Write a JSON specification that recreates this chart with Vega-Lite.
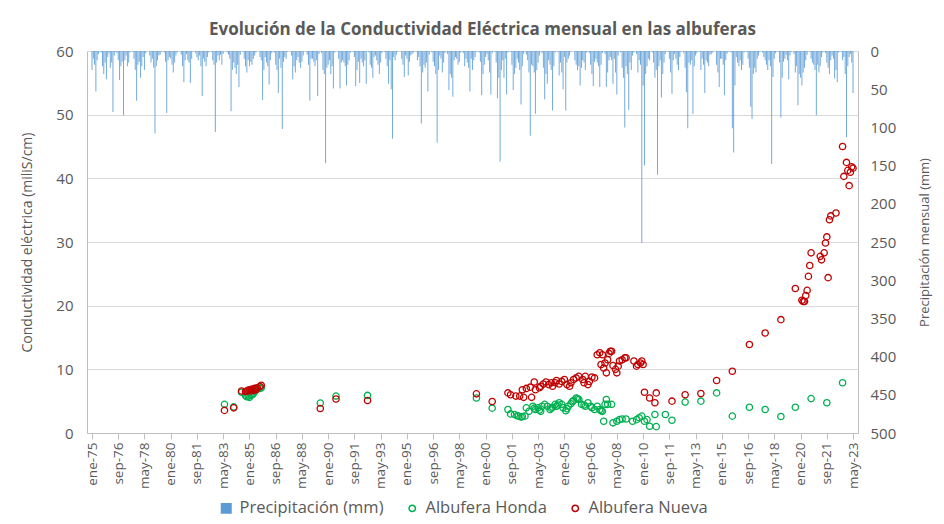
{
"$schema":"https://vega.github.io/schema/vega-lite/v6.json",
"width":771,"height":382,
"autosize":"none",
"padding":{"left":87,"top":51,"right":86,"bottom":91},
"background":"white",
"config":{"font":"Open Sans","view":{"stroke":null}},
"title":{"text":"Evolución de la Conductividad Eléctrica mensual en las albuferas","fontSize":17,"fontWeight":"bold","color":"#595959","offset":5,"dx":10},
"datasets":{
"prec":[
{"d":"1975-01","p":25},{"d":"1975-02","p":10},{"d":"1975-03","p":18},{"d":"1975-04","p":53},{"d":"1975-05","p":12},{"d":"1975-06","p":4},{"d":"1975-07","p":0},{"d":"1975-08","p":2},{"d":"1975-09","p":20},{"d":"1975-10","p":30},{"d":"1975-11","p":15},{"d":"1975-12","p":37},
{"d":"1976-01","p":8},{"d":"1976-02","p":3},{"d":"1976-03","p":22},{"d":"1976-04","p":15},{"d":"1976-05","p":80},{"d":"1976-06","p":6},{"d":"1976-07","p":1},{"d":"1976-08","p":3},{"d":"1976-09","p":12},{"d":"1976-10","p":38},{"d":"1976-11","p":20},{"d":"1976-12","p":14},
{"d":"1977-01","p":84},{"d":"1977-02","p":12},{"d":"1977-03","p":6},{"d":"1977-04","p":20},{"d":"1977-05","p":15},{"d":"1977-06","p":2},{"d":"1977-07","p":0},{"d":"1977-08","p":1},{"d":"1977-09","p":10},{"d":"1977-10","p":25},{"d":"1977-11","p":65},{"d":"1977-12","p":18},
{"d":"1978-01","p":14},{"d":"1978-02","p":35},{"d":"1978-03","p":20},{"d":"1978-04","p":8},{"d":"1978-05","p":25},{"d":"1978-06","p":3},{"d":"1978-07","p":0},{"d":"1978-08","p":0},{"d":"1978-09","p":6},{"d":"1978-10","p":15},{"d":"1978-11","p":10},{"d":"1978-12","p":22},
{"d":"1979-01","p":108},{"d":"1979-02","p":20},{"d":"1979-03","p":12},{"d":"1979-04","p":6},{"d":"1979-05","p":5},{"d":"1979-06","p":1},{"d":"1979-07","p":0},{"d":"1979-08","p":2},{"d":"1979-09","p":14},{"d":"1979-10","p":81},{"d":"1979-11","p":12},{"d":"1979-12","p":8},
{"d":"1980-01","p":10},{"d":"1980-02","p":18},{"d":"1980-03","p":28},{"d":"1980-04","p":15},{"d":"1980-05","p":6},{"d":"1980-06","p":2},{"d":"1980-07","p":0},{"d":"1980-08","p":0},{"d":"1980-09","p":5},{"d":"1980-10","p":20},{"d":"1980-11","p":41},{"d":"1980-12","p":12},
{"d":"1981-01","p":4},{"d":"1981-02","p":12},{"d":"1981-03","p":15},{"d":"1981-04","p":42},{"d":"1981-05","p":10},{"d":"1981-06","p":1},{"d":"1981-07","p":0},{"d":"1981-08","p":3},{"d":"1981-09","p":8},{"d":"1981-10","p":12},{"d":"1981-11","p":6},{"d":"1981-12","p":20},
{"d":"1982-01","p":59},{"d":"1982-02","p":10},{"d":"1982-03","p":14},{"d":"1982-04","p":20},{"d":"1982-05","p":8},{"d":"1982-06","p":2},{"d":"1982-07","p":0},{"d":"1982-08","p":1},{"d":"1982-09","p":12},{"d":"1982-10","p":18},{"d":"1982-11","p":106},{"d":"1982-12","p":15},
{"d":"1983-01","p":6},{"d":"1983-02","p":12},{"d":"1983-03","p":5},{"d":"1983-04","p":18},{"d":"1983-05","p":4},{"d":"1983-06","p":0},{"d":"1983-07","p":0},{"d":"1983-08","p":2},{"d":"1983-09","p":5},{"d":"1983-10","p":10},{"d":"1983-11","p":79},{"d":"1983-12","p":25},
{"d":"1984-01","p":15},{"d":"1984-02","p":22},{"d":"1984-03","p":30},{"d":"1984-04","p":18},{"d":"1984-05","p":47},{"d":"1984-06","p":5},{"d":"1984-07","p":0},{"d":"1984-08","p":1},{"d":"1984-09","p":10},{"d":"1984-10","p":20},{"d":"1984-11","p":28},{"d":"1984-12","p":12},
{"d":"1985-01","p":20},{"d":"1985-02","p":14},{"d":"1985-03","p":18},{"d":"1985-04","p":10},{"d":"1985-05","p":6},{"d":"1985-06","p":2},{"d":"1985-07","p":0},{"d":"1985-08","p":0},{"d":"1985-09","p":8},{"d":"1985-10","p":12},{"d":"1985-11","p":64},{"d":"1985-12","p":25},
{"d":"1986-01","p":8},{"d":"1986-02","p":15},{"d":"1986-03","p":20},{"d":"1986-04","p":44},{"d":"1986-05","p":12},{"d":"1986-06","p":3},{"d":"1986-07","p":0},{"d":"1986-08","p":2},{"d":"1986-09","p":18},{"d":"1986-10","p":25},{"d":"1986-11","p":55},{"d":"1986-12","p":10},
{"d":"1987-01","p":22},{"d":"1987-02","p":102},{"d":"1987-03","p":14},{"d":"1987-04","p":8},{"d":"1987-05","p":10},{"d":"1987-06","p":1},{"d":"1987-07","p":0},{"d":"1987-08","p":0},{"d":"1987-09","p":6},{"d":"1987-10","p":37},{"d":"1987-11","p":20},{"d":"1987-12","p":28},
{"d":"1988-01","p":12},{"d":"1988-02","p":8},{"d":"1988-03","p":15},{"d":"1988-04","p":22},{"d":"1988-05","p":14},{"d":"1988-06","p":6},{"d":"1988-07","p":0},{"d":"1988-08","p":1},{"d":"1988-09","p":5},{"d":"1988-10","p":18},{"d":"1988-11","p":65},{"d":"1988-12","p":10},
{"d":"1989-01","p":10},{"d":"1989-02","p":14},{"d":"1989-03","p":20},{"d":"1989-04","p":12},{"d":"1989-05","p":59},{"d":"1989-06","p":4},{"d":"1989-07","p":0},{"d":"1989-08","p":3},{"d":"1989-09","p":25},{"d":"1989-10","p":30},{"d":"1989-11","p":147},{"d":"1989-12","p":22},
{"d":"1990-01","p":18},{"d":"1990-02","p":12},{"d":"1990-03","p":30},{"d":"1990-04","p":20},{"d":"1990-05","p":49},{"d":"1990-06","p":2},{"d":"1990-07","p":0},{"d":"1990-08","p":0},{"d":"1990-09","p":10},{"d":"1990-10","p":49},{"d":"1990-11","p":15},{"d":"1990-12","p":12},
{"d":"1991-01","p":15},{"d":"1991-02","p":20},{"d":"1991-03","p":45},{"d":"1991-04","p":18},{"d":"1991-05","p":12},{"d":"1991-06","p":2},{"d":"1991-07","p":0},{"d":"1991-08","p":1},{"d":"1991-09","p":8},{"d":"1991-10","p":46},{"d":"1991-11","p":25},{"d":"1991-12","p":14},
{"d":"1992-01","p":42},{"d":"1992-02","p":10},{"d":"1992-03","p":15},{"d":"1992-04","p":20},{"d":"1992-05","p":12},{"d":"1992-06","p":43},{"d":"1992-07","p":0},{"d":"1992-08","p":2},{"d":"1992-09","p":18},{"d":"1992-10","p":22},{"d":"1992-11","p":35},{"d":"1992-12","p":8},
{"d":"1993-01","p":6},{"d":"1993-02","p":12},{"d":"1993-03","p":18},{"d":"1993-04","p":30},{"d":"1993-05","p":15},{"d":"1993-06","p":3},{"d":"1993-07","p":0},{"d":"1993-08","p":1},{"d":"1993-09","p":10},{"d":"1993-10","p":20},{"d":"1993-11","p":43},{"d":"1993-12","p":12},
{"d":"1994-01","p":50},{"d":"1994-02","p":115},{"d":"1994-03","p":8},{"d":"1994-04","p":12},{"d":"1994-05","p":5},{"d":"1994-06","p":1},{"d":"1994-07","p":0},{"d":"1994-08","p":0},{"d":"1994-09","p":10},{"d":"1994-10","p":18},{"d":"1994-11","p":34},{"d":"1994-12","p":6},
{"d":"1995-01","p":10},{"d":"1995-02","p":32},{"d":"1995-03","p":14},{"d":"1995-04","p":6},{"d":"1995-05","p":4},{"d":"1995-06","p":2},{"d":"1995-07","p":0},{"d":"1995-08","p":1},{"d":"1995-09","p":12},{"d":"1995-10","p":8},{"d":"1995-11","p":20},{"d":"1995-12","p":95},
{"d":"1996-01","p":28},{"d":"1996-02","p":18},{"d":"1996-03","p":22},{"d":"1996-04","p":15},{"d":"1996-05","p":53},{"d":"1996-06","p":5},{"d":"1996-07","p":0},{"d":"1996-08","p":2},{"d":"1996-09","p":14},{"d":"1996-10","p":20},{"d":"1996-11","p":30},{"d":"1996-12","p":120},
{"d":"1997-01","p":25},{"d":"1997-02","p":6},{"d":"1997-03","p":10},{"d":"1997-04","p":28},{"d":"1997-05","p":15},{"d":"1997-06","p":3},{"d":"1997-07","p":0},{"d":"1997-08","p":4},{"d":"1997-09","p":51},{"d":"1997-10","p":30},{"d":"1997-11","p":35},{"d":"1997-12","p":60},
{"d":"1998-01","p":12},{"d":"1998-02","p":8},{"d":"1998-03","p":10},{"d":"1998-04","p":18},{"d":"1998-05","p":14},{"d":"1998-06","p":2},{"d":"1998-07","p":0},{"d":"1998-08","p":3},{"d":"1998-09","p":20},{"d":"1998-10","p":10},{"d":"1998-11","p":15},{"d":"1998-12","p":22},
{"d":"1999-01","p":53},{"d":"1999-02","p":10},{"d":"1999-03","p":25},{"d":"1999-04","p":12},{"d":"1999-05","p":8},{"d":"1999-06","p":1},{"d":"1999-07","p":0},{"d":"1999-08","p":2},{"d":"1999-09","p":14},{"d":"1999-10","p":58},{"d":"1999-11","p":30},{"d":"1999-12","p":18},
{"d":"2000-01","p":8},{"d":"2000-02","p":4},{"d":"2000-03","p":12},{"d":"2000-04","p":28},{"d":"2000-05","p":57},{"d":"2000-06","p":3},{"d":"2000-07","p":0},{"d":"2000-08","p":1},{"d":"2000-09","p":15},{"d":"2000-10","p":62},{"d":"2000-11","p":35},{"d":"2000-12","p":145},
{"d":"2001-01","p":25},{"d":"2001-02","p":12},{"d":"2001-03","p":35},{"d":"2001-04","p":10},{"d":"2001-05","p":57},{"d":"2001-06","p":2},{"d":"2001-07","p":0},{"d":"2001-08","p":1},{"d":"2001-09","p":18},{"d":"2001-10","p":51},{"d":"2001-11","p":30},{"d":"2001-12","p":22},
{"d":"2002-01","p":10},{"d":"2002-02","p":15},{"d":"2002-03","p":25},{"d":"2002-04","p":70},{"d":"2002-05","p":20},{"d":"2002-06","p":4},{"d":"2002-07","p":0},{"d":"2002-08","p":5},{"d":"2002-09","p":12},{"d":"2002-10","p":28},{"d":"2002-11","p":111},{"d":"2002-12","p":18},
{"d":"2003-01","p":20},{"d":"2003-02","p":28},{"d":"2003-03","p":82},{"d":"2003-04","p":25},{"d":"2003-05","p":15},{"d":"2003-06","p":6},{"d":"2003-07","p":0},{"d":"2003-08","p":3},{"d":"2003-09","p":22},{"d":"2003-10","p":63},{"d":"2003-11","p":30},{"d":"2003-12","p":43},
{"d":"2004-01","p":12},{"d":"2004-02","p":18},{"d":"2004-03","p":25},{"d":"2004-04","p":78},{"d":"2004-05","p":20},{"d":"2004-06","p":2},{"d":"2004-07","p":0},{"d":"2004-08","p":1},{"d":"2004-09","p":32},{"d":"2004-10","p":15},{"d":"2004-11","p":28},{"d":"2004-12","p":50},
{"d":"2005-01","p":8},{"d":"2005-02","p":78},{"d":"2005-03","p":15},{"d":"2005-04","p":10},{"d":"2005-05","p":6},{"d":"2005-06","p":1},{"d":"2005-07","p":0},{"d":"2005-08","p":0},{"d":"2005-09","p":12},{"d":"2005-10","p":18},{"d":"2005-11","p":25},{"d":"2005-12","p":20},
{"d":"2006-01","p":45},{"d":"2006-02","p":22},{"d":"2006-03","p":12},{"d":"2006-04","p":15},{"d":"2006-05","p":25},{"d":"2006-06","p":2},{"d":"2006-07","p":0},{"d":"2006-08","p":3},{"d":"2006-09","p":18},{"d":"2006-10","p":30},{"d":"2006-11","p":46},{"d":"2006-12","p":14},
{"d":"2007-01","p":10},{"d":"2007-02","p":15},{"d":"2007-03","p":20},{"d":"2007-04","p":47},{"d":"2007-05","p":18},{"d":"2007-06","p":3},{"d":"2007-07","p":0},{"d":"2007-08","p":4},{"d":"2007-09","p":47},{"d":"2007-10","p":28},{"d":"2007-11","p":12},{"d":"2007-12","p":8},
{"d":"2008-01","p":12},{"d":"2008-02","p":43},{"d":"2008-03","p":10},{"d":"2008-04","p":28},{"d":"2008-05","p":57},{"d":"2008-06","p":6},{"d":"2008-07","p":0},{"d":"2008-08","p":2},{"d":"2008-09","p":22},{"d":"2008-10","p":35},{"d":"2008-11","p":100},{"d":"2008-12","p":20},
{"d":"2009-01","p":30},{"d":"2009-02","p":77},{"d":"2009-03","p":15},{"d":"2009-04","p":25},{"d":"2009-05","p":6},{"d":"2009-06","p":2},{"d":"2009-07","p":0},{"d":"2009-08","p":4},{"d":"2009-09","p":28},{"d":"2009-10","p":12},{"d":"2009-11","p":18},{"d":"2009-12","p":251},
{"d":"2010-01","p":45},{"d":"2010-02","p":150},{"d":"2010-03","p":30},{"d":"2010-04","p":20},{"d":"2010-05","p":10},{"d":"2010-06","p":12},{"d":"2010-07","p":0},{"d":"2010-08","p":2},{"d":"2010-09","p":15},{"d":"2010-10","p":35},{"d":"2010-11","p":25},{"d":"2010-12","p":162},
{"d":"2011-01","p":20},{"d":"2011-02","p":12},{"d":"2011-03","p":61},{"d":"2011-04","p":30},{"d":"2011-05","p":15},{"d":"2011-06","p":4},{"d":"2011-07","p":0},{"d":"2011-08","p":1},{"d":"2011-09","p":10},{"d":"2011-10","p":28},{"d":"2011-11","p":56},{"d":"2011-12","p":12},
{"d":"2012-01","p":4},{"d":"2012-02","p":10},{"d":"2012-03","p":18},{"d":"2012-04","p":25},{"d":"2012-05","p":8},{"d":"2012-06","p":1},{"d":"2012-07","p":0},{"d":"2012-08","p":3},{"d":"2012-09","p":22},{"d":"2012-10","p":54},{"d":"2012-11","p":101},{"d":"2012-12","p":15},
{"d":"2013-01","p":18},{"d":"2013-02","p":12},{"d":"2013-03","p":82},{"d":"2013-04","p":20},{"d":"2013-05","p":6},{"d":"2013-06","p":3},{"d":"2013-07","p":0},{"d":"2013-08","p":1},{"d":"2013-09","p":25},{"d":"2013-10","p":10},{"d":"2013-11","p":18},{"d":"2013-12","p":55},
{"d":"2014-01","p":12},{"d":"2014-02","p":15},{"d":"2014-03","p":20},{"d":"2014-04","p":5},{"d":"2014-05","p":4},{"d":"2014-06","p":2},{"d":"2014-07","p":0},{"d":"2014-08","p":0},{"d":"2014-09","p":18},{"d":"2014-10","p":28},{"d":"2014-11","p":47},{"d":"2014-12","p":10},
{"d":"2015-01","p":10},{"d":"2015-02","p":18},{"d":"2015-03","p":58},{"d":"2015-04","p":12},{"d":"2015-05","p":4},{"d":"2015-06","p":1},{"d":"2015-07","p":0},{"d":"2015-08","p":2},{"d":"2015-09","p":101},{"d":"2015-10","p":133},{"d":"2015-11","p":45},{"d":"2015-12","p":8},
{"d":"2016-01","p":15},{"d":"2016-02","p":20},{"d":"2016-03","p":12},{"d":"2016-04","p":25},{"d":"2016-05","p":18},{"d":"2016-06","p":2},{"d":"2016-07","p":0},{"d":"2016-08","p":1},{"d":"2016-09","p":10},{"d":"2016-10","p":22},{"d":"2016-11","p":73},{"d":"2016-12","p":89},
{"d":"2017-01","p":30},{"d":"2017-02","p":22},{"d":"2017-03","p":28},{"d":"2017-04","p":10},{"d":"2017-05","p":6},{"d":"2017-06","p":1},{"d":"2017-07","p":0},{"d":"2017-08","p":2},{"d":"2017-09","p":8},{"d":"2017-10","p":12},{"d":"2017-11","p":18},{"d":"2017-12","p":25},
{"d":"2018-01","p":12},{"d":"2018-02","p":20},{"d":"2018-03","p":148},{"d":"2018-04","p":34},{"d":"2018-05","p":10},{"d":"2018-06","p":3},{"d":"2018-07","p":0},{"d":"2018-08","p":1},{"d":"2018-09","p":15},{"d":"2018-10","p":87},{"d":"2018-11","p":35},{"d":"2018-12","p":14},
{"d":"2019-01","p":10},{"d":"2019-02","p":5},{"d":"2019-03","p":12},{"d":"2019-04","p":37},{"d":"2019-05","p":6},{"d":"2019-06","p":1},{"d":"2019-07","p":0},{"d":"2019-08","p":4},{"d":"2019-09","p":28},{"d":"2019-10","p":20},{"d":"2019-11","p":71},{"d":"2019-12","p":30},
{"d":"2020-01","p":35},{"d":"2020-02","p":45},{"d":"2020-03","p":28},{"d":"2020-04","p":22},{"d":"2020-05","p":12},{"d":"2020-06","p":5},{"d":"2020-07","p":0},{"d":"2020-08","p":1},{"d":"2020-09","p":10},{"d":"2020-10","p":15},{"d":"2020-11","p":18},{"d":"2020-12","p":25},
{"d":"2021-01","p":84},{"d":"2021-02","p":18},{"d":"2021-03","p":28},{"d":"2021-04","p":20},{"d":"2021-05","p":8},{"d":"2021-06","p":2},{"d":"2021-07","p":0},{"d":"2021-08","p":3},{"d":"2021-09","p":15},{"d":"2021-10","p":22},{"d":"2021-11","p":30},{"d":"2021-12","p":12},
{"d":"2022-01","p":6},{"d":"2022-02","p":10},{"d":"2022-03","p":36},{"d":"2022-04","p":25},{"d":"2022-05","p":41},{"d":"2022-06","p":2},{"d":"2022-07","p":0},{"d":"2022-08","p":1},{"d":"2022-09","p":12},{"d":"2022-10","p":8},{"d":"2022-11","p":30},{"d":"2022-12","p":113},
{"d":"2023-01","p":20},{"d":"2023-02","p":8},{"d":"2023-03","p":4},{"d":"2023-04","p":15},{"d":"2023-05","p":55}
],
"ce":[
{"d":"1983-06","s":"Albufera Honda","v":4.5},{"d":"1984-01","s":"Albufera Honda","v":4.1},{"d":"1984-07","s":"Albufera Honda","v":6.4},{"d":"1984-10","s":"Albufera Honda","v":5.9},{"d":"1984-11","s":"Albufera Honda","v":5.7},{"d":"1984-12","s":"Albufera Honda","v":5.8},{"d":"1985-01","s":"Albufera Honda","v":5.6},{"d":"1985-02","s":"Albufera Honda","v":5.9},{"d":"1985-03","s":"Albufera Honda","v":6.0},{"d":"1985-04","s":"Albufera Honda","v":6.2},{"d":"1985-05","s":"Albufera Honda","v":6.5},{"d":"1985-06","s":"Albufera Honda","v":6.8},{"d":"1985-07","s":"Albufera Honda","v":6.9},{"d":"1985-09","s":"Albufera Honda","v":7.0},{"d":"1985-10","s":"Albufera Honda","v":7.1},
{"d":"1989-07","s":"Albufera Honda","v":4.7},{"d":"1990-07","s":"Albufera Honda","v":5.8},{"d":"1992-07","s":"Albufera Honda","v":5.9},{"d":"1999-06","s":"Albufera Honda","v":5.5},{"d":"2000-06","s":"Albufera Honda","v":3.9},
{"d":"2001-06","s":"Albufera Honda","v":3.7},{"d":"2001-08","s":"Albufera Honda","v":3.0},{"d":"2001-11","s":"Albufera Honda","v":2.9},{"d":"2002-01","s":"Albufera Honda","v":2.7},{"d":"2002-02","s":"Albufera Honda","v":2.65},{"d":"2002-04","s":"Albufera Honda","v":2.5},{"d":"2002-05","s":"Albufera Honda","v":2.6},{"d":"2002-07","s":"Albufera Honda","v":2.65},{"d":"2002-08","s":"Albufera Honda","v":3.95},{"d":"2002-10","s":"Albufera Honda","v":3.4},
{"d":"2003-01","s":"Albufera Honda","v":4.2},{"d":"2003-02","s":"Albufera Honda","v":3.9},{"d":"2003-03","s":"Albufera Honda","v":3.7},{"d":"2003-05","s":"Albufera Honda","v":3.95},{"d":"2003-06","s":"Albufera Honda","v":3.6},{"d":"2003-07","s":"Albufera Honda","v":3.4},{"d":"2003-08","s":"Albufera Honda","v":4.2},{"d":"2003-10","s":"Albufera Honda","v":4.5},{"d":"2003-12","s":"Albufera Honda","v":4.2},
{"d":"2004-02","s":"Albufera Honda","v":3.7},{"d":"2004-03","s":"Albufera Honda","v":3.9},{"d":"2004-04","s":"Albufera Honda","v":4.05},{"d":"2004-06","s":"Albufera Honda","v":4.5},{"d":"2004-07","s":"Albufera Honda","v":4.2},{"d":"2004-08","s":"Albufera Honda","v":4.4},{"d":"2004-09","s":"Albufera Honda","v":4.75},{"d":"2004-11","s":"Albufera Honda","v":4.5},{"d":"2004-12","s":"Albufera Honda","v":3.95},
{"d":"2005-02","s":"Albufera Honda","v":3.5},{"d":"2005-03","s":"Albufera Honda","v":3.8},{"d":"2005-04","s":"Albufera Honda","v":4.2},{"d":"2005-06","s":"Albufera Honda","v":4.6},{"d":"2005-07","s":"Albufera Honda","v":4.9},{"d":"2005-08","s":"Albufera Honda","v":5.1},{"d":"2005-10","s":"Albufera Honda","v":5.5},{"d":"2005-11","s":"Albufera Honda","v":5.4},{"d":"2005-12","s":"Albufera Honda","v":5.26},
{"d":"2006-02","s":"Albufera Honda","v":4.5},{"d":"2006-04","s":"Albufera Honda","v":4.4},{"d":"2006-05","s":"Albufera Honda","v":4.2},{"d":"2006-07","s":"Albufera Honda","v":4.75},{"d":"2006-09","s":"Albufera Honda","v":4.2},{"d":"2006-10","s":"Albufera Honda","v":3.95},{"d":"2006-12","s":"Albufera Honda","v":3.7},
{"d":"2007-02","s":"Albufera Honda","v":4.2},{"d":"2007-04","s":"Albufera Honda","v":3.7},{"d":"2007-05","s":"Albufera Honda","v":3.5},{"d":"2007-06","s":"Albufera Honda","v":3.4},{"d":"2007-07","s":"Albufera Honda","v":1.85},{"d":"2007-08","s":"Albufera Honda","v":4.5},{"d":"2007-09","s":"Albufera Honda","v":5.26},{"d":"2007-10","s":"Albufera Honda","v":4.5},
{"d":"2008-01","s":"Albufera Honda","v":4.5},{"d":"2008-02","s":"Albufera Honda","v":1.6},{"d":"2008-05","s":"Albufera Honda","v":1.85},{"d":"2008-07","s":"Albufera Honda","v":2.1},{"d":"2008-09","s":"Albufera Honda","v":2.2},{"d":"2008-12","s":"Albufera Honda","v":2.2},
{"d":"2009-05","s":"Albufera Honda","v":1.85},{"d":"2009-08","s":"Albufera Honda","v":2.1},{"d":"2009-10","s":"Albufera Honda","v":2.4},{"d":"2009-12","s":"Albufera Honda","v":2.65},
{"d":"2010-02","s":"Albufera Honda","v":1.85},{"d":"2010-04","s":"Albufera Honda","v":2.1},{"d":"2010-06","s":"Albufera Honda","v":1.07},{"d":"2010-10","s":"Albufera Honda","v":2.9},{"d":"2010-11","s":"Albufera Honda","v":1.0},
{"d":"2011-06","s":"Albufera Honda","v":2.9},{"d":"2011-11","s":"Albufera Honda","v":2.0},{"d":"2012-09","s":"Albufera Honda","v":4.85},{"d":"2013-09","s":"Albufera Honda","v":5.0},{"d":"2014-09","s":"Albufera Honda","v":6.3},{"d":"2015-09","s":"Albufera Honda","v":2.65},{"d":"2016-10","s":"Albufera Honda","v":4.05},{"d":"2017-10","s":"Albufera Honda","v":3.7},{"d":"2018-10","s":"Albufera Honda","v":2.6},{"d":"2019-09","s":"Albufera Honda","v":4.05},{"d":"2020-09","s":"Albufera Honda","v":5.4},{"d":"2021-09","s":"Albufera Honda","v":4.75},{"d":"2022-09","s":"Albufera Honda","v":7.9},
{"d":"1983-06","s":"Albufera Nueva","v":3.55},{"d":"1984-01","s":"Albufera Nueva","v":3.95},{"d":"1984-07","s":"Albufera Nueva","v":6.6},{"d":"1984-10","s":"Albufera Nueva","v":6.5},{"d":"1984-11","s":"Albufera Nueva","v":6.6},{"d":"1984-12","s":"Albufera Nueva","v":6.7},{"d":"1985-01","s":"Albufera Nueva","v":6.8},{"d":"1985-02","s":"Albufera Nueva","v":6.6},{"d":"1985-03","s":"Albufera Nueva","v":6.9},{"d":"1985-04","s":"Albufera Nueva","v":6.7},{"d":"1985-05","s":"Albufera Nueva","v":7.0},{"d":"1985-06","s":"Albufera Nueva","v":6.8},{"d":"1985-07","s":"Albufera Nueva","v":7.1},{"d":"1985-09","s":"Albufera Nueva","v":7.3},{"d":"1985-10","s":"Albufera Nueva","v":7.5},
{"d":"1989-07","s":"Albufera Nueva","v":3.85},{"d":"1990-07","s":"Albufera Nueva","v":5.35},{"d":"1992-07","s":"Albufera Nueva","v":5.1},{"d":"1999-06","s":"Albufera Nueva","v":6.15},{"d":"2000-06","s":"Albufera Nueva","v":4.95},
{"d":"2001-06","s":"Albufera Nueva","v":6.3},{"d":"2001-08","s":"Albufera Nueva","v":6.0},{"d":"2001-12","s":"Albufera Nueva","v":5.8},{"d":"2002-03","s":"Albufera Nueva","v":5.8},{"d":"2002-05","s":"Albufera Nueva","v":6.8},{"d":"2002-06","s":"Albufera Nueva","v":5.6},{"d":"2002-08","s":"Albufera Nueva","v":7.0},{"d":"2002-11","s":"Albufera Nueva","v":7.2},{"d":"2002-12","s":"Albufera Nueva","v":5.6},
{"d":"2003-02","s":"Albufera Nueva","v":8.0},{"d":"2003-03","s":"Albufera Nueva","v":6.8},{"d":"2003-06","s":"Albufera Nueva","v":7.1},{"d":"2003-07","s":"Albufera Nueva","v":7.35},{"d":"2003-09","s":"Albufera Nueva","v":7.7},{"d":"2003-11","s":"Albufera Nueva","v":8.0},
{"d":"2004-01","s":"Albufera Nueva","v":7.6},{"d":"2004-03","s":"Albufera Nueva","v":7.9},{"d":"2004-04","s":"Albufera Nueva","v":7.35},{"d":"2004-06","s":"Albufera Nueva","v":7.9},{"d":"2004-07","s":"Albufera Nueva","v":8.25},{"d":"2004-09","s":"Albufera Nueva","v":7.7},{"d":"2004-11","s":"Albufera Nueva","v":8.1},
{"d":"2005-01","s":"Albufera Nueva","v":8.4},{"d":"2005-03","s":"Albufera Nueva","v":7.6},{"d":"2005-05","s":"Albufera Nueva","v":7.35},{"d":"2005-06","s":"Albufera Nueva","v":7.9},{"d":"2005-08","s":"Albufera Nueva","v":8.4},{"d":"2005-10","s":"Albufera Nueva","v":8.65},{"d":"2005-12","s":"Albufera Nueva","v":8.9},
{"d":"2006-03","s":"Albufera Nueva","v":8.4},{"d":"2006-04","s":"Albufera Nueva","v":7.9},{"d":"2006-05","s":"Albufera Nueva","v":8.9},{"d":"2006-07","s":"Albufera Nueva","v":7.6},{"d":"2006-08","s":"Albufera Nueva","v":8.1},{"d":"2006-10","s":"Albufera Nueva","v":8.8},{"d":"2006-12","s":"Albufera Nueva","v":8.65},
{"d":"2007-02","s":"Albufera Nueva","v":12.3},{"d":"2007-04","s":"Albufera Nueva","v":12.6},{"d":"2007-05","s":"Albufera Nueva","v":10.75},{"d":"2007-06","s":"Albufera Nueva","v":12.3},{"d":"2007-07","s":"Albufera Nueva","v":10.2},{"d":"2007-08","s":"Albufera Nueva","v":11.0},{"d":"2007-09","s":"Albufera Nueva","v":9.45},{"d":"2007-10","s":"Albufera Nueva","v":11.5},{"d":"2007-11","s":"Albufera Nueva","v":12.5},{"d":"2007-12","s":"Albufera Nueva","v":12.85},
{"d":"2008-01","s":"Albufera Nueva","v":12.85},{"d":"2008-02","s":"Albufera Nueva","v":10.6},{"d":"2008-04","s":"Albufera Nueva","v":10.0},{"d":"2008-05","s":"Albufera Nueva","v":9.45},{"d":"2008-06","s":"Albufera Nueva","v":10.5},{"d":"2008-07","s":"Albufera Nueva","v":11.3},{"d":"2008-09","s":"Albufera Nueva","v":11.5},{"d":"2008-11","s":"Albufera Nueva","v":11.8},{"d":"2008-12","s":"Albufera Nueva","v":11.8},
{"d":"2009-06","s":"Albufera Nueva","v":11.3},{"d":"2009-08","s":"Albufera Nueva","v":10.5},{"d":"2009-09","s":"Albufera Nueva","v":10.75},{"d":"2009-11","s":"Albufera Nueva","v":11.0},{"d":"2009-12","s":"Albufera Nueva","v":11.3},
{"d":"2010-01","s":"Albufera Nueva","v":10.75},{"d":"2010-02","s":"Albufera Nueva","v":6.4},{"d":"2010-06","s":"Albufera Nueva","v":5.5},{"d":"2010-10","s":"Albufera Nueva","v":4.75},{"d":"2010-11","s":"Albufera Nueva","v":6.3},
{"d":"2011-11","s":"Albufera Nueva","v":5.0},{"d":"2012-09","s":"Albufera Nueva","v":6.0},{"d":"2013-09","s":"Albufera Nueva","v":6.2},{"d":"2014-09","s":"Albufera Nueva","v":8.25},{"d":"2015-09","s":"Albufera Nueva","v":9.7},{"d":"2016-10","s":"Albufera Nueva","v":13.9},{"d":"2017-10","s":"Albufera Nueva","v":15.7},{"d":"2018-10","s":"Albufera Nueva","v":17.8},{"d":"2019-09","s":"Albufera Nueva","v":22.7},
{"d":"2020-02","s":"Albufera Nueva","v":20.85},{"d":"2020-03","s":"Albufera Nueva","v":20.65},{"d":"2020-04","s":"Albufera Nueva","v":20.65},{"d":"2020-05","s":"Albufera Nueva","v":21.6},{"d":"2020-06","s":"Albufera Nueva","v":22.4},{"d":"2020-07","s":"Albufera Nueva","v":24.6},{"d":"2020-08","s":"Albufera Nueva","v":26.3},{"d":"2020-09","s":"Albufera Nueva","v":28.3},
{"d":"2021-04","s":"Albufera Nueva","v":27.75},{"d":"2021-05","s":"Albufera Nueva","v":27.2},{"d":"2021-07","s":"Albufera Nueva","v":28.3},{"d":"2021-08","s":"Albufera Nueva","v":29.85},{"d":"2021-09","s":"Albufera Nueva","v":30.8},{"d":"2021-10","s":"Albufera Nueva","v":24.4},{"d":"2021-11","s":"Albufera Nueva","v":33.5},{"d":"2021-12","s":"Albufera Nueva","v":34.1},
{"d":"2022-04","s":"Albufera Nueva","v":34.55},{"d":"2022-09","s":"Albufera Nueva","v":45.0},{"d":"2022-10","s":"Albufera Nueva","v":40.3},{"d":"2022-12","s":"Albufera Nueva","v":42.5},{"d":"2023-01","s":"Albufera Nueva","v":41.25},{"d":"2023-02","s":"Albufera Nueva","v":38.85},{"d":"2023-03","s":"Albufera Nueva","v":40.95},{"d":"2023-04","s":"Albufera Nueva","v":41.8},{"d":"2023-05","s":"Albufera Nueva","v":41.6}
]
},
"encoding":{
"x":{"field":"d","type":"temporal","scale":{"type":"utc","domain":[{"year":1975,"month":1,"date":1,"utc":true},{"year":2023,"month":5,"date":1,"utc":true}],"nice":false},
"axis":{"title":null,"grid":false,"labelAngle":-90,"labelFontSize":13.5,"labelColor":"#595959","labelPadding":3,"tickSize":6,"tickColor":"#bfbfbf","domainColor":"#bfbfbf","labelOverlap":false,"labelFlush":false,"labelBound":false,
"values":[{"year":1975,"month":1,"date":1,"utc":true},{"year":1976,"month":9,"date":1,"utc":true},{"year":1978,"month":5,"date":1,"utc":true},{"year":1980,"month":1,"date":1,"utc":true},{"year":1981,"month":9,"date":1,"utc":true},{"year":1983,"month":5,"date":1,"utc":true},{"year":1985,"month":1,"date":1,"utc":true},{"year":1986,"month":9,"date":1,"utc":true},{"year":1988,"month":5,"date":1,"utc":true},{"year":1990,"month":1,"date":1,"utc":true},{"year":1991,"month":9,"date":1,"utc":true},{"year":1993,"month":5,"date":1,"utc":true},{"year":1995,"month":1,"date":1,"utc":true},{"year":1996,"month":9,"date":1,"utc":true},{"year":1998,"month":5,"date":1,"utc":true},{"year":2000,"month":1,"date":1,"utc":true},{"year":2001,"month":9,"date":1,"utc":true},{"year":2003,"month":5,"date":1,"utc":true},{"year":2005,"month":1,"date":1,"utc":true},{"year":2006,"month":9,"date":1,"utc":true},{"year":2008,"month":5,"date":1,"utc":true},{"year":2010,"month":1,"date":1,"utc":true},{"year":2011,"month":9,"date":1,"utc":true},{"year":2013,"month":5,"date":1,"utc":true},{"year":2015,"month":1,"date":1,"utc":true},{"year":2016,"month":9,"date":1,"utc":true},{"year":2018,"month":5,"date":1,"utc":true},{"year":2020,"month":1,"date":1,"utc":true},{"year":2021,"month":9,"date":1,"utc":true},{"year":2023,"month":5,"date":1,"utc":true}],
"labelExpr":"['ene','feb','mar','abr','may','jun','jul','ago','sep','oct','nov','dic'][utcmonth(datum.value)] + '-' + utcFormat(datum.value, '%y')"}}
},
"layer":[
{
"data":{"name":"prec"},
"mark":{"type":"bar","size":1,"opacity":0.85,"color":"#5b9bd5"},
"encoding":{
"y":{"field":"p","type":"quantitative","scale":{"domain":[0,500],"reverse":true,"nice":false},
"axis":{"orient":"right","values":[0,50,100,150,200,250,300,350,400,450,500],"grid":false,"ticks":false,"labelPadding":12,"labelFontSize":15,"labelColor":"#595959","domainColor":"#bfbfbf","title":"Precipitación mensual (mm)","titleFontSize":13,"titleFontWeight":"normal","titleColor":"#595959","titlePadding":36,"titleAngle":270}}
}
},
{
"data":{"name":"ce"},
"mark":{"type":"point","filled":false,"strokeWidth":1.3,"opacity":1},
"encoding":{
"y":{"field":"v","type":"quantitative","scale":{"domain":[0,60],"nice":false},
"axis":{"values":[0,10,20,30,40,50,60],"grid":true,"gridColor":"#d9d9d9","ticks":false,"labelPadding":14,"labelFontSize":15,"labelColor":"#595959","domainColor":"#bfbfbf","title":"Conductividad eléctrica (miliS/cm)","titleFontSize":14,"titleFontWeight":"normal","titleColor":"#595959","titlePadding":21}},
"color":{"field":"s","type":"nominal","scale":{"domain":["Precipitación (mm)","Albufera Honda","Albufera Nueva"],"range":["#5b9bd5","#00b050","#c00000"]},
"legend":{"orient":"none","legendX":131,"legendY":449,"direction":"horizontal","title":null,"labelFontSize":16.5,"labelColor":"#595959","columnPadding":20,"labelOffset":5,"symbolStrokeWidth":1.5,"symbolOpacity":1}},
"fill":{"field":"s","type":"nominal","scale":{"domain":["Precipitación (mm)","Albufera Honda","Albufera Nueva"],"range":["#5b9bd5","transparent","transparent"]},
"legend":{"orient":"none","legendX":131,"legendY":449,"direction":"horizontal","title":null,"labelFontSize":16.5,"labelColor":"#595959","columnPadding":20,"labelOffset":5,"symbolStrokeWidth":1.5,"symbolOpacity":1}},
"shape":{"field":"s","type":"nominal","scale":{"domain":["Precipitación (mm)","Albufera Honda","Albufera Nueva"],"range":["square","circle","circle"]},
"legend":{"orient":"none","legendX":131,"legendY":449,"direction":"horizontal","title":null,"labelFontSize":16.5,"labelColor":"#595959","columnPadding":20,"labelOffset":5,"symbolStrokeWidth":1.5,"symbolOpacity":1}},
"size":{"field":"s","type":"nominal","scale":{"type":"ordinal","domain":["Precipitación (mm)","Albufera Honda","Albufera Nueva"],"range":[90,40,40]},
"legend":{"orient":"none","legendX":131,"legendY":449,"direction":"horizontal","title":null,"labelFontSize":16.5,"labelColor":"#595959","columnPadding":20,"labelOffset":5,"symbolStrokeWidth":1.5,"symbolOpacity":1}}
}
}
],
"resolve":{"scale":{"y":"independent"}}
}
